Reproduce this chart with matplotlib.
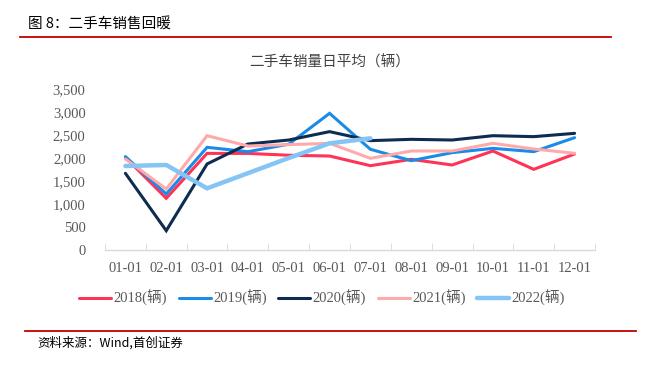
import matplotlib
matplotlib.use("Agg")
import matplotlib.pyplot as plt
from matplotlib.lines import Line2D
import numpy as np

categories = ["01-01", "02-01", "03-01", "04-01", "05-01", "06-01",
              "07-01", "08-01", "09-01", "10-01", "11-01", "12-01"]
s2018 = [2015, 1124, 2100, 2100, 2060, 2043, 1833, 1971, 1848, 2152, 1754, 2087]
s2019 = [2030, 1217, 2232, 2137, 2300, 2971, 2189, 1942, 2116, 2210, 2138, 2442]
s2020 = [1667, 420, 1870, 2304, 2391, 2573, 2377, 2406, 2391, 2485, 2464, 2536]
s2021 = [1978, 1326, 2485, 2261, 2290, 2319, 1993, 2152, 2152, 2319, 2196, 2102]
s2022 = [1826, 1848, 1341, 1670, 2000, 2319, 2428]
series_names = ["2018(辆)", "2019(辆)", "2020(辆)", "2021(辆)", "2022(辆)"]
yticks = [0, 500, 1000, 1500, 2000, 2500, 3000, 3500]

colors = ["#FF3355", "#1A8BE6", "#0E2B50", "#FFAAAA", "#85C5F5"]
widths = [2.2, 2.2, 2.2, 2.2, 3.2]

serif = ["Liberation Serif", "Noto Sans CJK SC"]
cjk = ["Noto Sans CJK SC", "DejaVu Sans"]

fig = plt.figure(figsize=(6.49, 3.67), dpi=100)
ax = fig.add_axes([105/649, (367-250)/367, 490/649, 161/367])

x = np.arange(len(categories))
all_series = [s2018, s2019, s2020, s2021, s2022]
for vals, c, w, name in zip(all_series, colors, widths, series_names):
    ax.plot(x[:len(vals)], vals, color=c, lw=w, solid_capstyle="round",
            solid_joinstyle="miter", label=name)

ax.set_xlim(-0.5, len(categories) - 0.5)
ax.set_ylim(0, 3500)
ax.set_yticks(yticks)
ax.set_yticklabels([f"{v:,}" for v in yticks], family=serif, fontsize=10.5, color="#595959")
ax.set_xticks(x)
ax.set_xticklabels(categories, family=serif, fontsize=10.5, color="#595959")
ax.set_xticks(np.arange(len(categories) + 1) - 0.5, minor=True)
ax.tick_params(axis="x", which="major", length=0, pad=9)
ax.tick_params(axis="x", which="minor", length=5, color="#D9D9D9", direction="in")
ax.tick_params(axis="y", length=0, pad=14)
for s in ["top", "right", "left"]:
    ax.spines[s].set_visible(False)
ax.spines["bottom"].set_color("#D9D9D9")
ax.spines["bottom"].set_linewidth(1)

fig.text(330/649, 1 - 62/367, "二手车销量日平均（辆）", ha="center", va="center",
         family=cjk, fontsize=10.5, color="#404040")

handles = [Line2D([0], [0], color=c, lw=w, solid_capstyle="round") for c, w in zip(colors, widths)]
leg = fig.legend(handles, series_names, loc="center", bbox_to_anchor=(322/649, 1 - 298/367),
                 ncol=5, frameon=False, handlelength=2.2, handletextpad=0.15, columnspacing=0.8,
                 prop={"family": serif, "size": 10.5})
for t in leg.get_texts():
    t.set_color("#595959")

# header
fig.text(28/649, 1 - 25/367, "图 8：二手车销售回暖", ha="left", va="center",
         family=cjk, fontsize=10.5, color="#000000")
fig.add_artist(Line2D([20/649, 611/649], [1 - 37/367, 1 - 37/367], color="#C00000", lw=1.3))
fig.add_artist(Line2D([25/649, 636/649], [1 - 331/367, 1 - 331/367], color="#C00000", lw=1.3))
fig.text(37/649, 1 - 343/367, "资料来源：Wind,首创证券", ha="left", va="center",
         family=cjk, fontsize=9, style="italic", color="#000000")

fig.savefig("out.png", dpi=100)
